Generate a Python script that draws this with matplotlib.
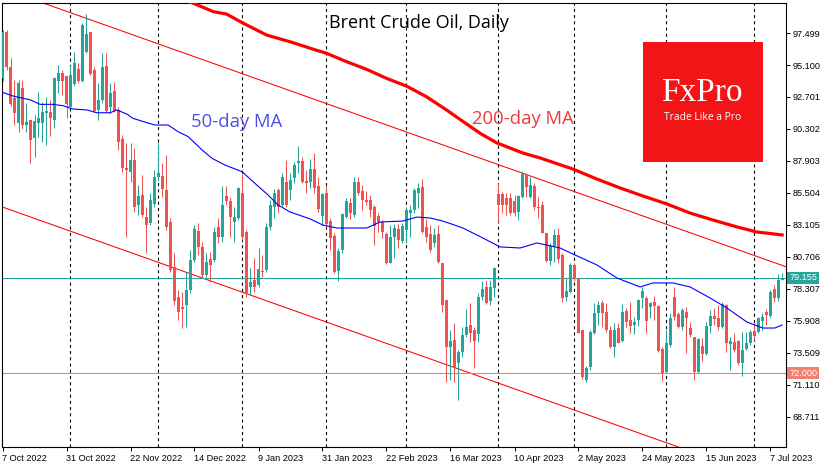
import matplotlib
matplotlib.use('Agg')
import matplotlib.pyplot as plt
from matplotlib.patches import Rectangle
import numpy as np

# --- data (daily Brent candles, 7 Oct 2022 .. 12 Jul 2023) ---
opens = [94.10, 97.60, 94.92, 92.60, 90.73, 93.35, 90.60, 90.98, 89.60, 90.73,
         90.73, 91.48, 91.60, 90.98, 93.92, 94.52, 94.27, 91.98, 93.68, 94.77,
         93.92, 96.10, 97.60, 94.72, 91.73, 92.48, 95.02, 91.98, 93.15, 91.73,
         89.53, 87.35, 87.10, 87.98, 84.60, 85.35, 83.73, 83.23, 84.68, 86.68,
         86.78, 85.73, 83.35, 79.98, 77.73, 76.93, 77.11, 78.23, 80.48, 82.65,
         81.48, 79.36, 80.53, 80.48, 82.98, 82.23, 85.28, 84.93, 83.35, 83.60,
         85.53, 82.60, 78.48, 78.98, 78.61, 79.66, 79.73, 82.98, 84.48, 85.73,
         84.60, 86.35, 85.73, 86.60, 87.73, 87.90, 86.40, 86.35, 87.28, 86.00,
         83.80, 85.48, 83.43, 82.28, 79.68, 81.23, 83.73, 84.78, 83.86, 86.35,
         85.65, 84.98, 84.98, 84.43, 83.78, 83.30, 82.40, 80.28, 82.23, 82.80,
         81.90, 82.73, 83.98, 84.23, 85.48, 85.98, 82.93, 82.40, 81.73, 82.40,
         80.28, 77.48, 73.98, 74.48, 72.73, 73.61, 74.86, 75.61, 75.23, 74.93,
         77.73, 78.48, 77.43, 78.36, 85.43, 85.43, 85.10, 85.10, 84.93, 84.10,
         85.23, 86.85, 85.23, 86.03, 84.43, 84.60, 82.53, 80.43, 81.53, 82.35,
         80.86, 77.73, 78.11, 80.11, 79.11, 75.23, 71.48, 72.48, 75.03, 76.53,
         77.28, 76.56, 75.23, 73.98, 75.36, 74.43, 76.66, 75.98, 75.61, 75.98,
         77.61, 77.61, 76.98, 77.36, 77.03, 73.78, 72.11, 74.11, 77.73, 76.43,
         75.43, 76.56, 75.36, 74.73, 72.11, 74.03, 73.43, 75.53, 76.28, 76.11,
         75.48, 77.11, 74.18, 74.36, 74.43, 72.73, 73.78, 74.23, 75.16, 75.11,
         75.93, 76.56, 76.31, 78.28, 77.61, 79.00]
highs = [97.75, 97.72, 95.60, 93.97, 93.97, 94.00, 92.23, 90.98, 91.35, 93.10,
         92.35, 92.73, 92.48, 94.22, 95.10, 94.72, 94.27, 95.10, 96.10, 95.22,
         98.22, 98.92, 97.60, 94.97, 93.73, 96.02, 96.02, 93.73, 93.85, 91.98,
         89.85, 89.28, 89.28, 88.85, 86.10, 86.85, 84.48, 85.48, 87.23, 89.35,
         87.73, 88.35, 83.60, 80.98, 78.23, 78.11, 79.61, 81.23, 83.10, 83.23,
         81.86, 80.98, 81.11, 82.98, 83.60, 86.03, 86.03, 85.23, 84.48, 85.98,
         86.93, 82.73, 79.86, 80.61, 81.36, 80.86, 83.23, 84.98, 85.78, 85.85,
         86.98, 88.00, 86.98, 87.85, 89.03, 88.23, 87.23, 88.03, 88.53, 86.73,
         85.48, 86.10, 83.60, 82.48, 81.35, 83.98, 85.10, 85.10, 86.73, 86.73,
         86.10, 85.68, 85.35, 84.60, 83.98, 83.48, 82.60, 83.10, 83.15, 83.15,
         83.23, 84.48, 84.60, 85.85, 86.23, 86.53, 83.53, 83.10, 82.85, 83.10,
         80.28, 77.48, 75.23, 75.73, 73.73, 75.48, 76.78, 77.23, 75.48, 77.98,
         78.93, 78.93, 78.98, 79.93, 86.23, 85.60, 85.48, 85.48, 85.35, 85.35,
         87.18, 86.98, 86.73, 86.23, 85.23, 84.93, 82.53, 81.73, 82.78, 82.85,
         80.98, 79.11, 80.23, 80.23, 79.11, 75.23, 72.53, 75.23, 77.28, 77.43,
         77.48, 77.28, 75.53, 75.73, 75.73, 77.18, 76.86, 77.36, 76.23, 77.53,
         78.48, 77.78, 77.36, 77.78, 77.11, 73.98, 75.23, 76.48, 78.48, 76.61,
         76.86, 76.98, 75.86, 74.73, 74.61, 74.61, 75.86, 76.73, 76.86, 77.11,
         77.36, 77.18, 74.73, 75.03, 74.48, 75.11, 75.11, 75.23, 75.73, 76.23,
         76.53, 76.78, 78.23, 78.61, 79.43, 79.53]
lows = [93.90, 94.72, 92.00, 90.60, 90.10, 90.30, 90.10, 87.78, 88.23, 89.73,
        89.35, 89.10, 89.78, 90.35, 92.97, 92.85, 91.10, 91.93, 93.53, 93.73,
        93.85, 95.97, 94.35, 91.60, 90.98, 92.23, 91.60, 91.48, 91.60, 88.73,
        87.10, 82.23, 86.35, 84.10, 83.85, 83.73, 81.00, 83.10, 84.48, 86.40,
        85.23, 82.73, 79.61, 77.11, 75.98, 75.36, 75.48, 77.98, 80.36, 80.86,
        79.11, 79.23, 78.85, 80.36, 81.73, 81.86, 84.60, 82.23, 81.86, 83.48,
        81.98, 77.73, 77.86, 78.11, 78.48, 79.23, 79.61, 82.73, 83.60, 83.98,
        84.50, 84.48, 84.98, 86.23, 86.98, 86.23, 85.48, 85.85, 85.48, 84.10,
        83.10, 82.98, 81.23, 79.48, 78.93, 81.03, 83.60, 83.53, 83.68, 85.35,
        84.23, 84.60, 83.73, 81.60, 82.60, 82.10, 80.18, 80.23, 80.61, 81.35,
        81.73, 81.73, 82.23, 84.00, 84.35, 82.53, 81.85, 81.11, 81.48, 80.23,
        76.61, 71.36, 71.48, 71.36, 69.98, 73.23, 74.73, 74.36, 72.36, 74.36,
        77.48, 77.18, 77.11, 77.73, 83.35, 83.98, 83.86, 83.86, 83.80, 83.50,
        85.10, 85.20, 85.10, 84.23, 83.60, 82.48, 80.36, 80.11, 80.36, 80.23,
        77.36, 77.43, 78.03, 78.90, 74.98, 71.53, 71.36, 72.23, 74.93, 75.61,
        75.48, 75.11, 73.86, 73.23, 74.23, 74.36, 75.43, 74.98, 74.93, 75.53,
        76.86, 75.03, 76.11, 75.98, 73.61, 71.43, 71.98, 73.98, 75.98, 75.36,
        75.23, 73.48, 74.73, 71.48, 72.03, 72.93, 73.36, 74.98, 75.61, 75.23,
        75.36, 73.61, 72.23, 73.61, 72.61, 71.78, 73.73, 74.11, 74.48, 74.98,
        75.23, 75.61, 76.23, 77.36, 77.43, 78.95]
closes = [97.60, 94.92, 92.18, 91.48, 93.73, 90.60, 90.85, 89.48, 90.90, 91.15,
          91.60, 91.65, 91.10, 94.15, 94.52, 93.92, 92.18, 94.35, 95.27, 93.92,
          98.10, 97.42, 94.42, 91.68, 92.48, 94.97, 91.68, 92.97, 91.68, 89.35,
          87.35, 87.23, 87.98, 84.48, 85.30, 83.85, 83.10, 84.98, 86.68, 87.03,
          85.78, 82.98, 79.73, 77.43, 76.61, 76.78, 78.23, 80.48, 82.80, 81.48,
          79.36, 80.36, 80.11, 82.60, 82.23, 84.60, 84.93, 83.73, 83.73, 85.85,
          82.23, 77.98, 78.85, 78.48, 79.78, 79.61, 82.98, 84.60, 85.53, 84.48,
          86.73, 84.60, 86.48, 87.60, 87.93, 86.35, 86.23, 87.28, 85.85, 84.28,
          85.43, 83.18, 82.10, 79.61, 81.18, 83.93, 84.93, 83.98, 86.35, 85.48,
          84.98, 84.85, 84.23, 83.06, 83.35, 82.60, 80.23, 82.23, 82.85, 81.98,
          83.03, 84.23, 84.23, 85.73, 85.85, 82.60, 82.18, 81.23, 82.35, 80.36,
          77.11, 73.98, 74.41, 72.36, 73.61, 74.86, 75.48, 74.98, 74.43, 77.73,
          78.28, 77.23, 78.48, 79.86, 84.60, 84.60, 84.60, 84.03, 83.98, 85.28,
          86.90, 85.98, 86.10, 84.43, 84.35, 82.53, 80.43, 81.53, 82.35, 80.53,
          77.61, 78.16, 80.11, 79.11, 75.03, 71.73, 72.36, 75.11, 76.53, 77.11,
          76.48, 75.23, 73.93, 75.23, 74.28, 76.61, 75.81, 75.53, 75.81, 77.48,
          78.18, 75.93, 77.23, 77.03, 73.68, 72.03, 74.28, 76.11, 76.18, 75.43,
          76.73, 76.11, 74.86, 72.11, 74.53, 73.43, 75.53, 76.28, 76.03, 75.43,
          77.18, 74.28, 74.41, 73.73, 72.73, 73.73, 74.28, 75.11, 74.78, 76.11,
          76.18, 76.36, 78.11, 77.61, 79.00, 79.155]

# moving averages (bar index, price)
ma50_bar = [0, 2.7, 7, 9.4, 12.6, 15.1, 17.6, 21.1, 23.6, 26.9, 28.6, 31.1, 32.6,
            36.6, 38.1, 41.4, 43.9, 46.4, 49.9, 52.4, 55.6, 59.9, 63.1, 66.4, 68.9,
            71.9, 76.9, 80.1, 83.6, 91.1, 94.4, 100.1, 103.6, 106.9, 110.1, 115.1,
            120.1, 124.4, 129.4, 133.6, 139.4, 142.6, 148.6, 153.6, 159.4, 162.6,
            167.6, 171.9, 176.9, 181.1, 186.1, 190.1, 193.1, 194.9]
ma50_val = [93.05, 92.77, 92.48, 92.15, 92.15, 92.05, 91.80, 91.73, 91.52, 91.52,
            91.73, 91.42, 91.10, 90.73, 90.60, 90.60, 90.10, 89.73, 88.73, 88.10,
            87.60, 87.10, 86.23, 85.35, 84.60, 84.08, 83.56, 83.10, 82.88, 82.88,
            83.33, 83.40, 83.70, 83.63, 83.40, 82.88, 82.13, 81.46, 81.38, 81.76,
            81.38, 80.93, 80.11, 79.13, 78.46, 78.76, 78.76, 78.46, 77.63, 76.88,
            75.83, 75.38, 75.38, 75.61]
ma200_bar = [44, 47.7, 52.7, 56.0, 60.2, 66.0, 72.7, 77.7, 81.0, 86.0, 91.0, 96.0,
             101.0, 106.0, 111.0, 115.2, 119.4, 123.5, 130.1, 134.4, 142.6, 148.6,
             154.4, 160.1, 166.1, 171.9, 177.6, 183.6, 188.6, 194.9]
ma200_val = [100.10, 99.73, 99.10, 98.92, 98.23, 97.35, 96.77, 96.28, 95.98, 95.35,
             94.78, 94.10, 93.52, 92.72, 91.73, 90.85, 89.98, 89.27, 88.50, 88.13,
             87.30, 86.55, 85.88, 85.28, 84.68, 84.00, 83.48, 82.96, 82.58, 82.36]

# trend channel drawn on the chart (two endpoints each)
chan_bar = [0, 196]
chan_upper = [100.83, 79.96]
chan_lower = [84.45, 63.58]

last_price = 79.155
level_price = 72.000

xtick_bars = [0, 16, 32, 48, 64, 80, 96, 112, 128, 144, 160, 176, 192]
xtick_labels = ['7 Oct 2022', '31 Oct 2022', '22 Nov 2022', '14 Dec 2022', '9 Jan 2023',
                '31 Jan 2023', '22 Feb 2023', '16 Mar 2023', '10 Apr 2023', '2 May 2023',
                '24 May 2023', '15 Jun 2023', '7 Jul 2023']
month_bars = [17, 39, 60, 81, 101, 124, 143, 166, 188]
yticks = [97.499, 95.100, 92.701, 90.302, 87.903, 85.504, 83.105, 80.706,
          78.307, 75.908, 73.509, 71.110, 68.711]

UP = '#26a69a'
DOWN = '#ef5350'

plt.rcParams['font.family'] = ['Liberation Sans', 'DejaVu Sans']

W, H = 835, 470
fig = plt.figure(figsize=(W / 100, H / 100), dpi=100)
ax = fig.add_axes([2 / W, 23 / H, 784 / W, 444.5 / H])


def px(x, y):
    # pixel position in the 835x470 image -> figure fraction
    return x / W, 1 - y / H


o = np.array(opens)
h = np.array(highs)
l = np.array(lows)
c = np.array(closes)
x = np.arange(len(c))
cols = [UP if cc >= oo else DOWN for oo, cc in zip(o, c)]

# month separators
for b in month_bars:
    ax.axvline(b, color='black', lw=0.8, ls=(0, (2.8, 2.8)), zorder=1)

# channel and horizontal levels
ax.plot(chan_bar, chan_upper, color='#ff0000', lw=0.75, zorder=2)
ax.plot(chan_bar, chan_lower, color='#ff0000', lw=0.75, zorder=2)
ax.axhline(last_price, color=UP, lw=0.8, zorder=2)
ax.axhline(level_price, color='#f08070', lw=0.8, zorder=2)

# candles
ax.vlines(x, l, h, colors=cols, lw=0.75, zorder=3)
body = np.maximum(np.abs(c - o), 0.04)
ax.bar(x, body, bottom=np.minimum(o, c), width=0.74, color=cols, linewidth=0, zorder=3)

# moving averages
ax.plot(ma50_bar, ma50_val, color='#0000ff', lw=0.8, zorder=4)
ax.plot(ma200_bar, ma200_val, color='#ff0000', lw=2.3, zorder=4)

ax.set_xlim(-0.125, 195.875)
ax.set_ylim(66.46, 99.786)

ax.set_xticks(xtick_bars)
ax.set_xticklabels(xtick_labels)
for t in ax.get_xticklabels():
    t.set_ha('left')
ax.tick_params(axis='x', direction='out', length=3, width=0.7, pad=2, labelsize=6.6)

ax.yaxis.tick_right()
ax.set_yticks(yticks)
ax.set_yticklabels([f'{v:.3f}' for v in yticks])
ax.tick_params(axis='y', direction='out', length=3, width=0.7, pad=2, labelsize=6.6)

for s in ax.spines.values():
    s.set_linewidth(0.8)
    s.set_color('black')

# price boxes on the right scale
ytr = ax.get_yaxis_transform()
ax.text(1.004, last_price, f'{last_price:.3f}', transform=ytr, ha='left', va='center',
        fontsize=6.6, color='white', zorder=10, clip_on=False,
        bbox=dict(boxstyle='square,pad=0.18', fc=UP, ec='none'))
ax.text(1.004, level_price, f'{level_price:.3f}', transform=ytr, ha='left', va='center',
        fontsize=6.6, color='white', zorder=10, clip_on=False,
        bbox=dict(boxstyle='square,pad=0.18', fc='#f08070', ec='none'))

# titles and labels
fig.text(*px(329, 23), 'Brent Crude Oil, Daily', ha='left', va='center',
         fontsize=13, family='Open Sans', color='black', zorder=10)
fig.text(*px(191, 122), '50-day MA', ha='left', va='center',
         fontsize=13.3, family='Open Sans', color='#4f4fe6', zorder=10)
fig.text(*px(472, 119), '200-day MA', ha='left', va='center',
         fontsize=13.3, family='Open Sans', color='#f03a3a', zorder=10)

# FxPro logo
lx, ly = px(643, 162)
fig.patches.append(Rectangle((lx, ly), 120 / W, 120 / H, transform=fig.transFigure,
                             fc='#f21416', ec='none', zorder=9))
fig.text(*px(702, 93), 'FxPro', ha='center', va='center', fontsize=24,
         family='Liberation Serif', color='white', zorder=11)
fig.text(*px(703, 117), 'Trade Like a Pro', ha='center', va='center', fontsize=7.4,
         family='Open Sans', color='white', zorder=11)

fig.savefig('out.png', dpi=100)
